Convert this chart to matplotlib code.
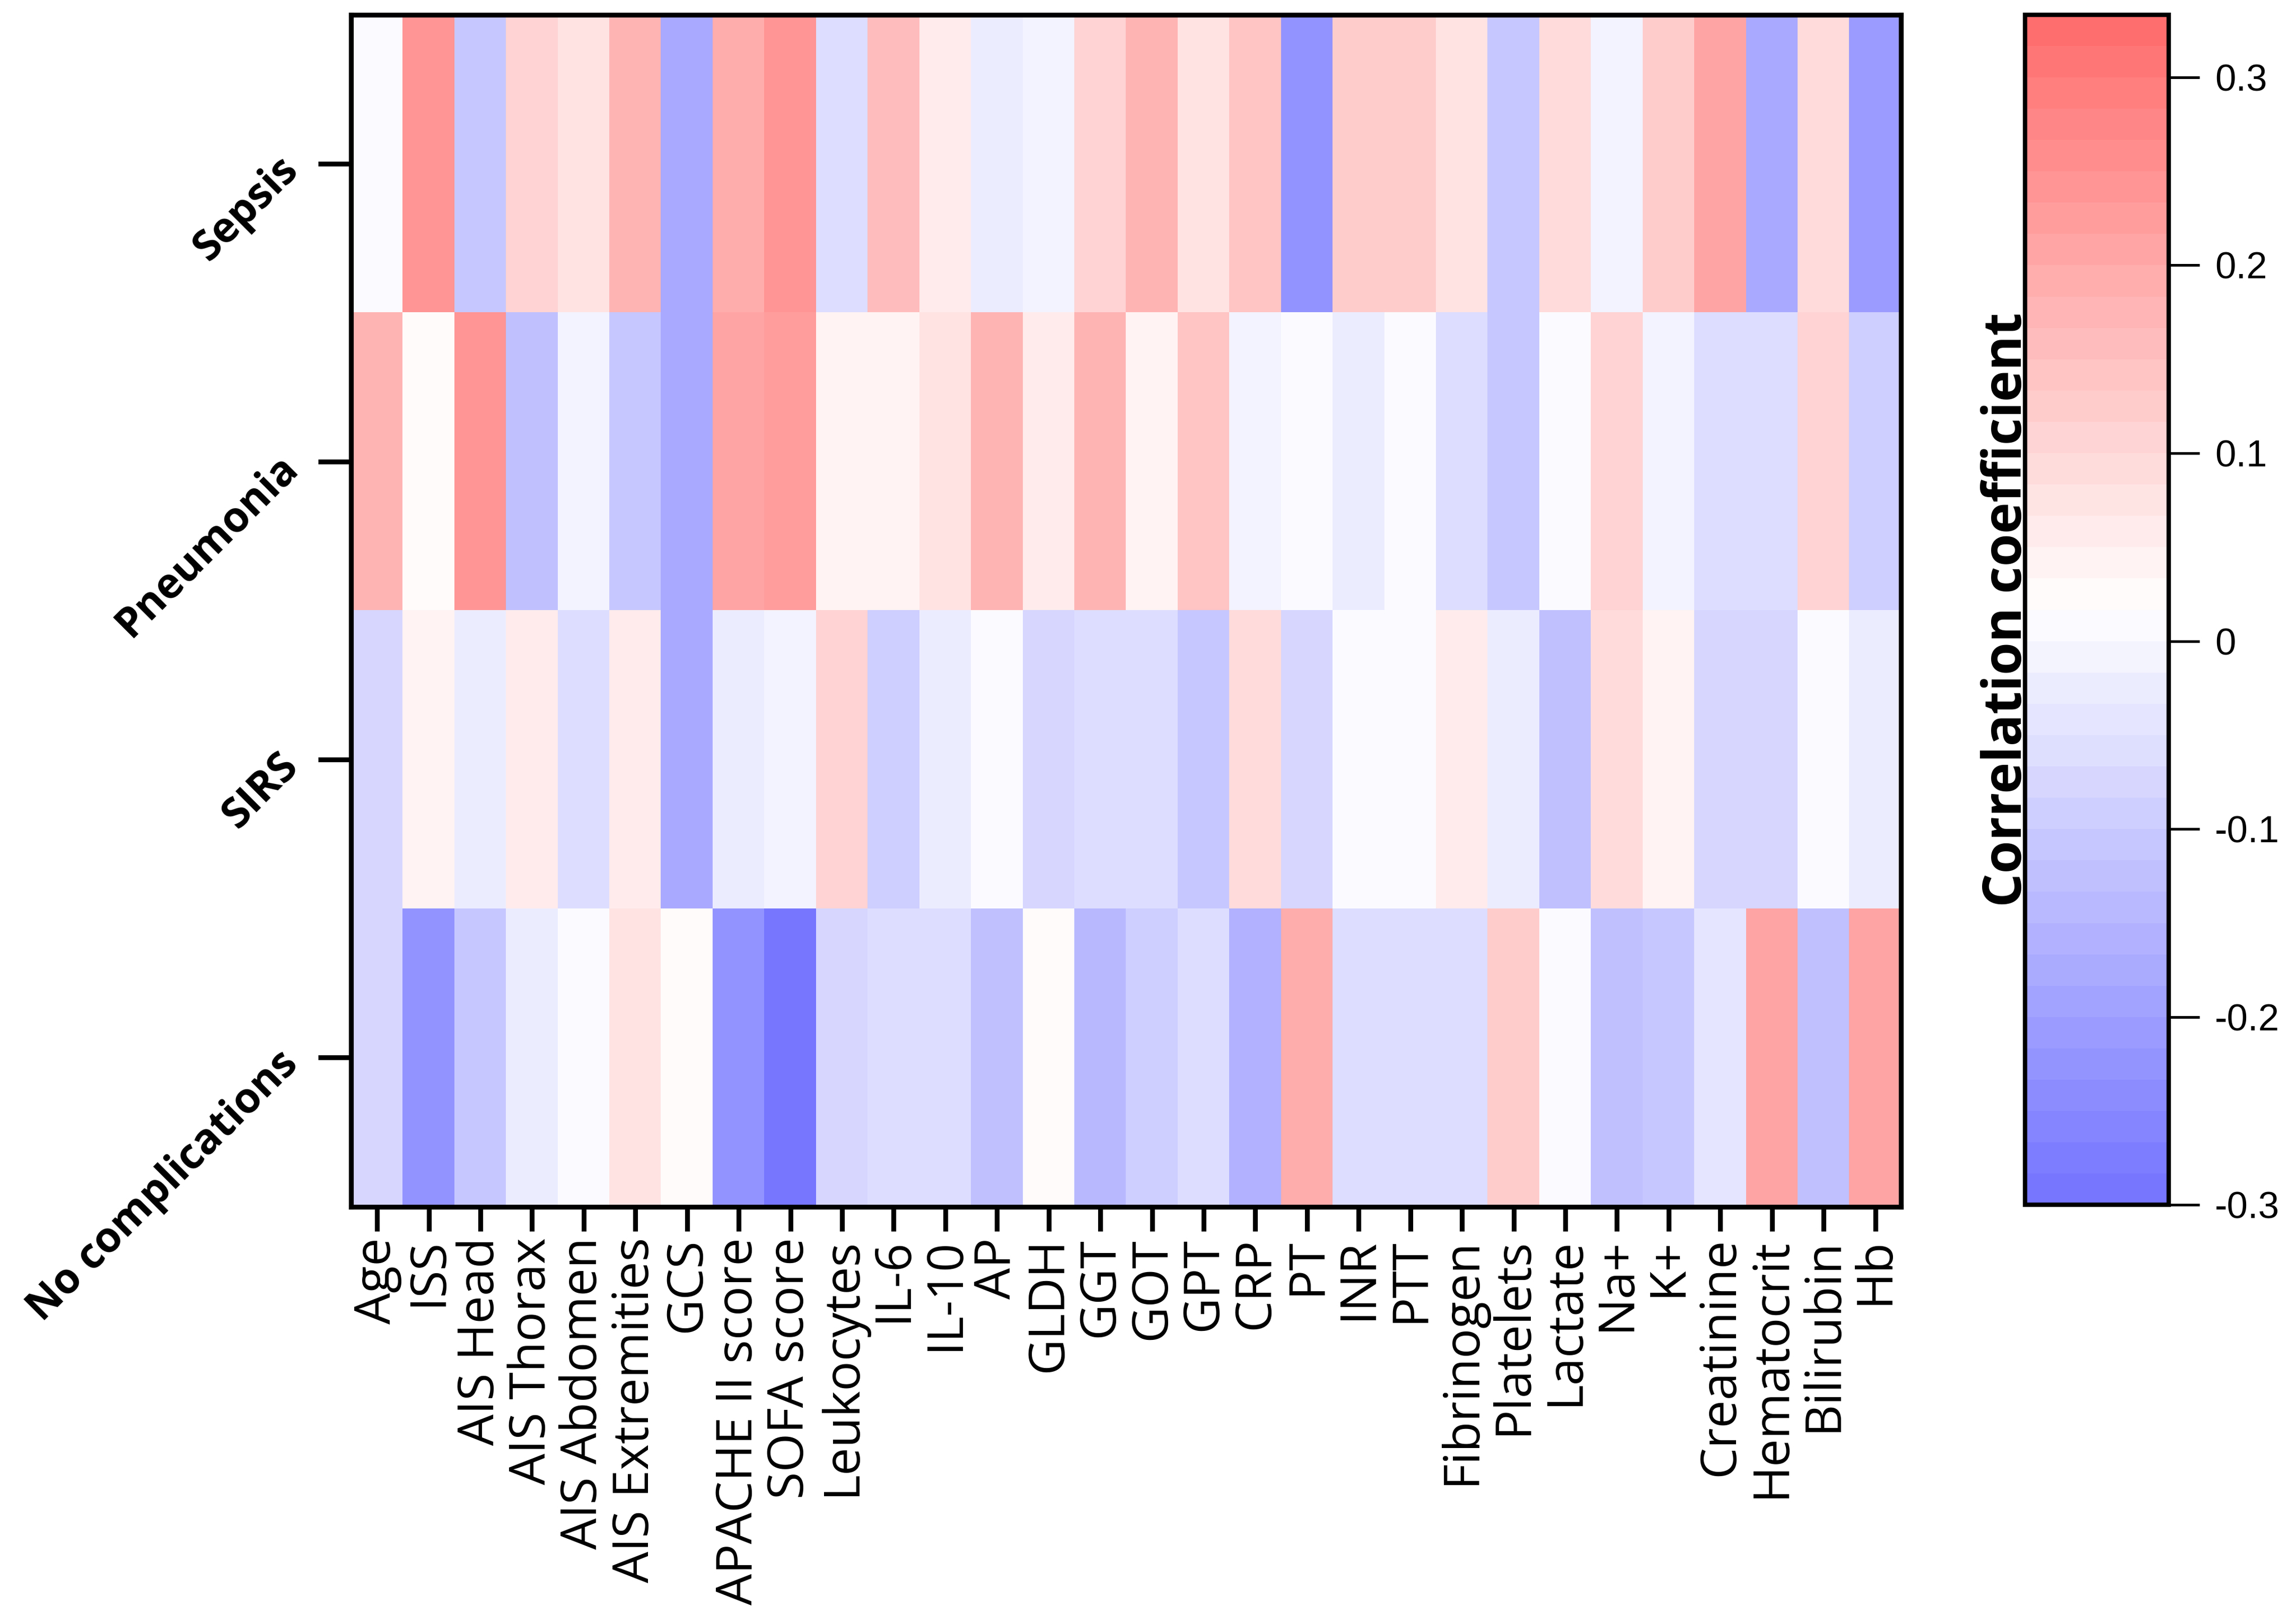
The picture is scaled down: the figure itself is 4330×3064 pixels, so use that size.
import numpy as np
import matplotlib
matplotlib.use('Agg')
import matplotlib.pyplot as plt
from matplotlib.colors import LinearSegmentedColormap, BoundaryNorm

plt.rcParams['axes.unicode_minus'] = False

# Row and column names
groups = ['Sepsis', 'Pneumonia', 'SIRS', 'No complications']
params = ['Age', 'ISS', 'AIS Head', 'AIS Thorax', 'AIS Abdomen', 'AIS Extremities',
          'GCS', 'APACHE II score', 'SOFA score', 'Leukocytes', 'IL-6', 'IL-10', 'AP',
          'GLDH', 'GGT', 'GOT', 'GPT', 'CRP', 'PT', 'INR', 'PTT', 'Fibrinogen',
          'Platelets', 'Lactate', 'Na+', 'K+', 'Creatinine', 'Hematocrit',
          'Bilirubin', 'Hb']

# Correlation coefficients
sepsis = [0.010, 0.235, -0.113, 0.108, 0.082, 0.170, -0.170, 0.185, 0.246, -0.066,
          0.152, 0.058, -0.030, -0.011, 0.108, 0.170, 0.082, 0.148, -0.230, 0.126,
          0.126, 0.082, -0.100, 0.100, -0.011, 0.119, 0.206, -0.183, 0.093, -0.207]
pneumonia = [0.174, 0.023, 0.246, -0.131, -0.011, -0.113, -0.183, 0.200, 0.224, 0.043,
             0.043, 0.082, 0.174, 0.065, 0.180, 0.038, 0.137, -0.011, 0.010, -0.030,
             0.010, -0.054, -0.103, 0.010, 0.110, -0.011, -0.054, -0.066, 0.115, -0.084]
sirs = [-0.077, 0.043, -0.030, 0.060, -0.061, 0.060, -0.170, -0.030, -0.011, 0.108,
        -0.099, -0.030, 0.010, -0.070, -0.061, -0.061, -0.100, 0.093, -0.080, 0.010,
        0.010, 0.056, -0.030, -0.120, 0.093, 0.038, -0.080, -0.080, 0.010, -0.030]
no_compl = [-0.080, -0.218, -0.100, -0.030, 0.005, 0.082, 0.017, -0.218, -0.295, -0.080,
            -0.066, -0.066, -0.131, 0.023, -0.136, -0.084, -0.066, -0.160, 0.190, -0.066,
            -0.066, -0.066, 0.130, 0.010, -0.131, -0.100, -0.047, 0.206, -0.131, 0.200]

cbar_ticks = [-0.3, -0.2, -0.1, 0, 0.1, 0.2, 0.3]
cbar_ticklabels = ['-0.3', '-0.2', '-0.1', '0', '0.1', '0.2', '0.3']


def main():
    data = np.array([sepsis, pneumonia, sirs, no_compl])

    # discrete blue-white-red map, 38 steps from -0.3 to 0.333
    nlev = 38
    bounds = -0.3 + np.arange(nlev + 1) / 60.0
    cmap = LinearSegmentedColormap.from_list('bwr_soft', ['#7676ff', '#ffffff', '#ff6e6e'], N=nlev)
    norm = BoundaryNorm(bounds, nlev)

    fig = plt.figure(figsize=(4330 / 300, 3064 / 300), dpi=300)
    ax = fig.add_axes([0.153, 0.257, 0.675, 0.734])
    im = ax.imshow(data, cmap=cmap, norm=norm, aspect='auto', interpolation='nearest')

    for s in ax.spines.values():
        s.set_linewidth(2.2)

    ax.set_xticks(np.arange(len(params)))
    ax.set_xticklabels(params, rotation=90, fontfamily='Open Sans', fontsize=22.5)
    ax.set_yticks(np.arange(len(groups)))
    ax.set_yticklabels(groups, rotation=45, rotation_mode='anchor', ha='right', va='center',
                       fontfamily='Open Sans', fontweight='bold', fontsize=19)
    ax.tick_params(axis='x', length=11, width=2.2, pad=3)
    ax.tick_params(axis='y', length=15, width=2.2, pad=12)

    # Colorbar
    cax = fig.add_axes([0.882, 0.258, 0.0625, 0.733])
    cb = fig.colorbar(im, cax=cax, ticks=cbar_ticks)
    cb.ax.minorticks_off()
    cb.ax.set_yticklabels(cbar_ticklabels, fontfamily='Liberation Sans', fontsize=17)
    cb.ax.tick_params(length=14, width=1.2, pad=7)
    cb.outline.set_linewidth(2)
    cb.ax.yaxis.set_label_position('left')
    cb.set_label('Correlation coefficient', fontfamily='Open Sans', fontweight='bold',
                 fontsize=24, labelpad=-4)

    fig.savefig('out.png', dpi=300)


if __name__ == '__main__':
    main()
